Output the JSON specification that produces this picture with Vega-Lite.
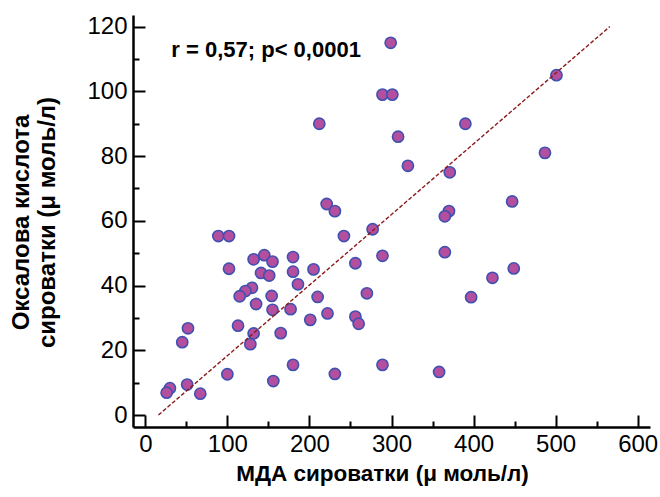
{
  "$schema": "https://vega.github.io/schema/vega-lite/v6.json",
  "width": 517,
  "height": 412,
  "autosize": {"type": "none"},
  "padding": {"left": 133, "top": 15, "right": 10, "bottom": 70},
  "background": "white",
  "config": {
    "view": {"stroke": null},
    "font": "Liberation Sans",
    "axis": {"grid": false, "domainColor": "black", "tickColor": "black", "labelColor": "black", "titleColor": "black", "labelFont": "Liberation Sans", "titleFont": "Liberation Sans"}
  },
  "resolve": {"axis": {"x": "independent", "y": "independent"}},
  "layer": [
    {
      "data": {"values": [
        {"mda": 299, "ox": 115}, {"mda": 289, "ox": 99}, {"mda": 301, "ox": 99}, {"mda": 212, "ox": 90}, {"mda": 390, "ox": 90},
        {"mda": 308, "ox": 86}, {"mda": 320, "ox": 77}, {"mda": 371, "ox": 75}, {"mda": 501, "ox": 105}, {"mda": 487, "ox": 81},
        {"mda": 447, "ox": 66}, {"mda": 370, "ox": 63}, {"mda": 365, "ox": 61.4}, {"mda": 365, "ox": 50.3}, {"mda": 449, "ox": 45.3},
        {"mda": 423, "ox": 42.4}, {"mda": 397, "ox": 36.4}, {"mda": 358, "ox": 13.3},
        {"mda": 221, "ox": 65.2}, {"mda": 231, "ox": 63}, {"mda": 89, "ox": 55.3}, {"mda": 102, "ox": 55.3}, {"mda": 242, "ox": 55.3},
        {"mda": 277, "ox": 57.4}, {"mda": 289, "ox": 49.2}, {"mda": 132, "ox": 48.1}, {"mda": 145, "ox": 49.4}, {"mda": 155, "ox": 47.4},
        {"mda": 180, "ox": 48.8}, {"mda": 102, "ox": 45.2}, {"mda": 141, "ox": 43.9}, {"mda": 151, "ox": 43.1}, {"mda": 180, "ox": 44.3},
        {"mda": 205, "ox": 45}, {"mda": 256, "ox": 46.9}, {"mda": 186, "ox": 40.4}, {"mda": 130, "ox": 39.3}, {"mda": 122, "ox": 38.3},
        {"mda": 115, "ox": 36.7}, {"mda": 154, "ox": 36.8}, {"mda": 210, "ox": 36.5}, {"mda": 270, "ox": 37.6}, {"mda": 135, "ox": 34.3},
        {"mda": 155, "ox": 32.5}, {"mda": 177, "ox": 32.7}, {"mda": 222, "ox": 31.4}, {"mda": 256, "ox": 30.4}, {"mda": 260, "ox": 28.2},
        {"mda": 201, "ox": 29.4}, {"mda": 113, "ox": 27.6}, {"mda": 52, "ox": 26.8}, {"mda": 132, "ox": 25.2}, {"mda": 165, "ox": 25.3},
        {"mda": 45, "ox": 22.5}, {"mda": 128, "ox": 21.9}, {"mda": 180, "ox": 15.5}, {"mda": 289, "ox": 15.5}, {"mda": 100, "ox": 12.6},
        {"mda": 231, "ox": 12.7}, {"mda": 156, "ox": 10.5}, {"mda": 51, "ox": 9.4}, {"mda": 30, "ox": 8.3}, {"mda": 26, "ox": 6.9},
        {"mda": 67, "ox": 6.6}
      ]},
      "mark": {"type": "circle", "size": 125, "fill": "#B44FA0", "stroke": "#3F51B0", "strokeWidth": 1.6, "opacity": 1, "fillOpacity": 1},
      "encoding": {
        "x": {"field": "mda", "type": "quantitative", "scale": {"domain": [-15, 615], "nice": false, "zero": false},
          "axis": {"orient": "bottom", "values": [0, 100, 200, 300, 400, 500, 600], "tickSize": -12, "tickWidth": 2, "domainWidth": 2.5,
            "labelFontSize": 24, "labelPadding": 17, "labelBaseline": "top", "labelFlush": false, "labelOverlap": false,
            "title": "МДА сироватки (μ моль/л)", "titleFontSize": 22.5, "titleFontWeight": "bold", "titleX": 249, "titleY": 53,
            "titleBaseline": "alphabetic", "titleAlign": "center", "titleAnchor": "start"}},
        "y": {"field": "ox", "type": "quantitative", "scale": {"domain": [-3.7, 123.6], "nice": false, "zero": false},
          "axis": {"orient": "left", "values": [0, 20, 40, 60, 80, 100, 120], "tickSize": -12, "tickWidth": 2, "domainWidth": 2.5,
            "labelFontSize": 24, "labelPadding": 18, "labelFlush": false, "labelOverlap": false,
            "title": ["Оксалова кислота", "сироватки (μ моль/л)"], "titleFontSize": 24, "titleFontWeight": "bold",
            "titleAngle": -90, "titleX": -112, "titleY": 207, "titleBaseline": "middle", "titleAlign": "center", "titleAnchor": "start", "titleLineHeight": 26}}
      }
    },
    {
      "data": {"values": [{"mda": 16, "ox": 0}, {"mda": 566, "ox": 120}]},
      "mark": {"type": "line", "color": "#8B1A1A", "strokeWidth": 1.4, "strokeDash": [4, 2]},
      "encoding": {
        "x": {"field": "mda", "type": "quantitative",
          "axis": {"orient": "bottom", "values": [50, 150, 250, 350, 450, 550], "tickSize": -6, "tickWidth": 2, "labels": false, "domain": false, "title": null}},
        "y": {"field": "ox", "type": "quantitative",
          "axis": {"orient": "left", "values": [10, 30, 50, 70, 90, 110], "tickSize": -6, "tickWidth": 2, "labels": false, "domain": false, "title": null}}
      }
    },
    {
      "data": {"values": [{"mda": 31.7, "ox": 110.7, "label": "r = 0,57; p< 0,0001"}]},
      "mark": {"type": "text", "align": "left", "baseline": "alphabetic", "fontSize": 22, "fontWeight": "bold", "font": "Liberation Sans", "color": "black"},
      "encoding": {
        "x": {"field": "mda", "type": "quantitative", "axis": null},
        "y": {"field": "ox", "type": "quantitative", "axis": null},
        "text": {"field": "label"}
      }
    }
  ]
}
